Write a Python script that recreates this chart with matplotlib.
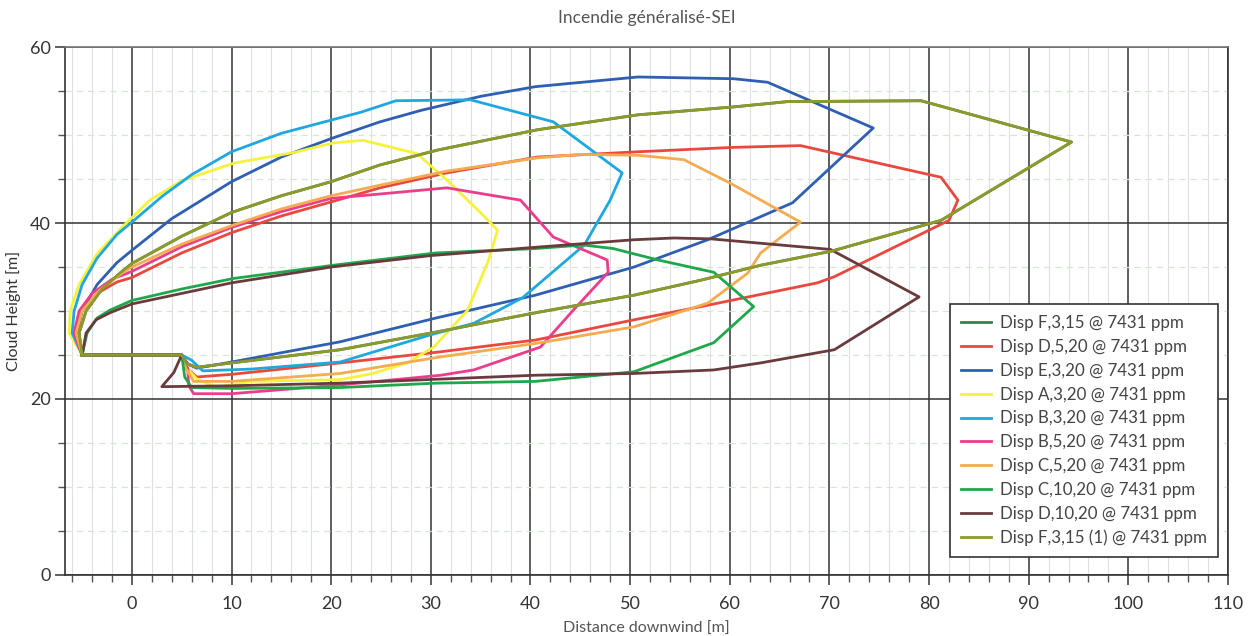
import matplotlib.pyplot as plt
from matplotlib.ticker import MultipleLocator

plt.rcParams['font.family'] = ['Lato', 'DejaVu Sans']

# --- Data (x = distance downwind [m], y = cloud height [m]) ---
labels = [
    "Disp F,3,15 @ 7431 ppm",
    "Disp D,5,20 @ 7431 ppm",
    "Disp E,3,20 @ 7431 ppm",
    "Disp A,3,20 @ 7431 ppm",
    "Disp B,3,20 @ 7431 ppm",
    "Disp B,5,20 @ 7431 ppm",
    "Disp C,5,20 @ 7431 ppm",
    "Disp C,10,20 @ 7431 ppm",
    "Disp D,10,20 @ 7431 ppm",
    "Disp F,3,15 (1) @ 7431 ppm",
]
colors = ["#3b7f4a", "#e9483f", "#2f5fb3", "#f4f23c", "#1fa8df",
          "#ec3d8d", "#f5ab50", "#1ea84b", "#6a3b3d", "#8c9a2c"]

f315_x = [-5, -5.3, -4.6, -3, -1, 0, 5, 10, 15, 20, 24.9, 30.7, 40.7, 50.8, 60.4, 65.8, 79.2,
          94.3, 81.2, 70.2, 63.1, 57.1, 50.4, 40.5, 30.5, 20.9, 10, 6.5, 5.5, 5, -5]
f315_y = [25, 27.5, 30, 32.5, 34.5, 35.4, 38.5, 41.2, 43.1, 44.7, 46.6, 48.3, 50.6, 52.3, 53.2, 53.8, 53.9,
          49.2, 40.3, 36.8, 35.2, 33.5, 31.8, 29.8, 27.6, 25.6, 24.1, 23.6, 24, 25, 25]

d520_x = [-5, -5.5, -5, -3.5, -1.5, 0, 5, 10, 15, 20, 24.9, 31.6, 40.7, 50.8, 60.4, 67.1, 81.2,
          82.9, 82, 70.5, 68.8, 57.1, 50.4, 40.5, 30.5, 20.9, 10, 6.5, 5.5, 5, -5]
d520_y = [25, 27.5, 30, 32, 33.3, 33.8, 36.6, 38.9, 40.8, 42.4, 44, 45.7, 47.5, 48.1, 48.6, 48.8, 45.2,
          42.6, 40.3, 33.9, 33.2, 30.5, 29, 26.7, 25.3, 24.1, 22.8, 22.5, 23.5, 25, 25]

e320_x = [-5, -5.6, -5, -3.5, -1.5, 0, 4, 10, 15, 20, 24.9, 29, 35, 40.5, 50.8, 60.4, 63.8,
          74.4, 66.3, 57.8, 50.4, 40.5, 30.5, 20.9, 10, 6.5, 5.6, 5, -5]
e320_y = [25, 27.5, 30, 33, 35.5, 36.9, 40.5, 44.7, 47.5, 49.6, 51.5, 52.8, 54.4, 55.5, 56.6, 56.4, 56,
          50.8, 42.3, 38.1, 35, 31.8, 29.2, 26.5, 24.2, 23.5, 24, 25, 25]

a320_x = [-5, -6.3, -6.2, -5.3, -3.5, -1, 1.8, 5, 10.2, 16.2, 20.2, 23.2, 28.6, 31.6, 34.7, 36.7,
          35.8, 33.7, 30.3, 27.6, 24.2, 20.9, 12, 8.5, 6.5, 5.5, 5, -5]
a320_y = [25, 27.5, 30, 33, 36.5, 39.5, 42.6, 44.8, 46.8, 48, 49.1, 49.4, 47.9, 44.9, 41.5, 39.2,
          35.8, 30.1, 25.9, 24.1, 22.9, 22.2, 22, 21.3, 22.3, 23.5, 25, 25]

b320_x = [-5, -6, -5.8, -5, -3.5, -1.5, 0, 3, 6, 10, 15, 20, 23, 26.5, 34, 42.3,
          49.2, 48, 45.4, 39.2, 34.3, 30, 20.9, 12, 7.1, 6, 5, -5]
b320_y = [25, 27.5, 30, 33, 36, 38.7, 40.1, 43, 45.5, 48.1, 50.2, 51.7, 52.6, 53.9, 54, 51.5,
          45.7, 42.6, 37.5, 31.5, 28.6, 27.3, 24.2, 23.4, 23.2, 24.4, 25, 25]

b520_x = [-5, -5.8, -5.3, -4, -2, 0, 5, 10, 15, 20, 24.9, 31.6, 39, 42.3, 47.7,
          47.8, 44.3, 41, 34.3, 31, 20.9, 10, 6.2, 5.7, 5.6, 5, -5]
b520_y = [25, 27.5, 30, 32, 33.6, 34.5, 37.3, 39.5, 41.3, 42.8, 43.3, 44, 42.6, 38.4, 35.8,
          34.4, 30.1, 25.9, 23.3, 22.7, 21.6, 20.6, 20.6, 21.5, 23.5, 25, 25]

c520_x = [-5, -5.6, -5, -3.3, -1, 0, 5, 10, 15, 20, 24.9, 31.6, 40.7, 45, 50.8, 55.4, 60.1, 64.4,
          67.1, 63.1, 61.8, 57.8, 50.4, 41, 30.5, 20.9, 10, 6.2, 5.4, 5, -5]
c520_y = [25, 27.5, 30, 32.3, 34.3, 35, 37.6, 39.7, 41.6, 43.1, 44.3, 45.9, 47.4, 47.8, 47.7, 47.2, 44.5, 41.8,
          40.1, 36.6, 34.3, 30.9, 28.2, 26.4, 24.7, 22.9, 22, 22, 23.5, 25, 25]

c1020_x = [-5, -4.5, -3.5, -2.2, 0, 5, 10.2, 20.2, 30.5, 40.5, 45.3, 48.3, 52.8, 58.4,
           62.4, 58.4, 50.4, 40.5, 30.5, 20.9, 10, 6, 5.3, 5, -5]
c1020_y = [25, 27.5, 29.2, 30.1, 31.2, 32.5, 33.7, 35.2, 36.6, 37.1, 37.5, 37.1, 35.8, 34.4,
           30.5, 26.4, 23.1, 22, 21.8, 21.3, 21.2, 21.3, 22.5, 25, 25]

d1020_x = [-5, -4.6, -3.6, -2.2, 0, 5, 10, 20, 30, 40, 50.4, 54.4, 58.1, 70.1,
           79, 70.5, 63.1, 58.4, 50.4, 40.5, 20.9, 10, 3, 4.2, 5, -5]
d1020_y = [25, 27.5, 29, 29.8, 30.8, 32, 33.2, 35, 36.3, 37.2, 38.1, 38.3, 38.2, 37,
           31.6, 25.6, 24.1, 23.3, 22.9, 22.7, 21.8, 21.5, 21.4, 23, 25, 25]

# the F,3,15 (1) run sits exactly on top of F,3,15
f315b_x = list(f315_x)
f315b_y = list(f315_y)

series = [(f315_x, f315_y), (d520_x, d520_y), (e320_x, e320_y), (a320_x, a320_y),
          (b320_x, b320_y), (b520_x, b520_y), (c520_x, c520_y), (c1020_x, c1020_y),
          (d1020_x, d1020_y), (f315b_x, f315b_y)]

# --- Figure ---
fig = plt.figure(figsize=(12.53, 6.36), dpi=100)
ax = fig.add_axes([0.052, 0.096, 0.928, 0.830])

for (xs, ys), lab, col in zip(series, labels, colors):
    ax.plot(xs, ys, color=col, lw=2.0, label=lab, solid_joinstyle='round')

ax.set_xlim(-6.7, 110)
ax.set_ylim(0, 60)

ax.xaxis.set_major_locator(MultipleLocator(10))
ax.xaxis.set_minor_locator(MultipleLocator(2))
ax.yaxis.set_major_locator(MultipleLocator(20))
ax.yaxis.set_minor_locator(MultipleLocator(5))

# grid: dark majors, faint minors
ax.grid(True, which='major', axis='x', color='#333333', lw=1.1)
ax.grid(True, which='major', axis='y', color='#333333', lw=1.1)
ax.grid(True, which='minor', axis='x', color='#e0e0e0', lw=0.8)
ax.grid(True, which='minor', axis='y', color='#d3e8d3', lw=0.9, ls=(0, (5, 4)))
ax.set_axisbelow(True)

for side in ['left', 'bottom', 'top', 'right']:
    ax.spines[side].set_color('#333333')
    ax.spines[side].set_linewidth(1.2)
ax.spines['top'].set_color('#777777')

ax.tick_params(axis='both', which='major', direction='out', length=7, width=1.1,
               color='#333333', labelsize=13, labelcolor='#333333')
ax.tick_params(axis='both', which='minor', direction='out', length=5, width=1.0, color='#555555')
ax.tick_params(axis='x', which='major', pad=8)

ax.set_title("Incendie généralisé-SEI", fontsize=12.5, color='#555555', pad=17)
ax.set_xlabel("Distance downwind [m]", fontsize=11.5, color='#555555', labelpad=7)
ax.set_ylabel("Cloud Height [m]", fontsize=11.5, color='#333333', labelpad=6)

leg = ax.legend(loc='lower right', bbox_to_anchor=(0.9914, 0.034), borderaxespad=0,
                fontsize=12.2, frameon=True, fancybox=False, edgecolor='#333333', framealpha=1,
                handlelength=1.8, handletextpad=0.5, labelspacing=0.46, borderpad=0.65)
leg.get_frame().set_linewidth(1.2)
for t in leg.get_texts():
    t.set_color('#444444')

fig.savefig("out.png", dpi=100)
